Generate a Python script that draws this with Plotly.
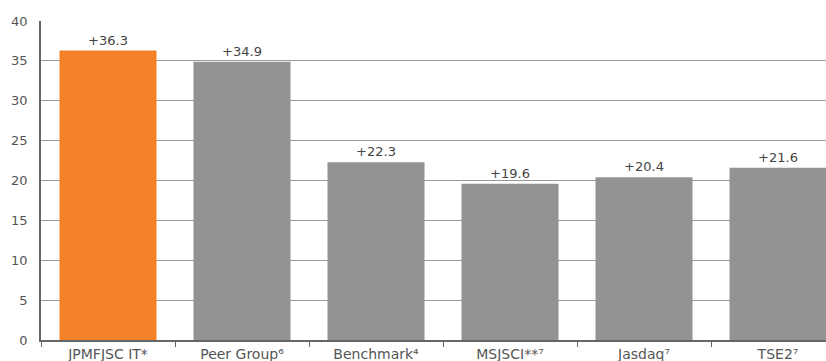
import plotly.graph_objects as go

categories = ["JPMFJSC IT*", "Peer Group⁶", "Benchmark⁴", "MSJSCI**⁷", "Jasdaq⁷", "TSE2⁷"]
values = [36.3, 34.9, 22.3, 19.6, 20.4, 21.6]
labels = ["+36.3", "+34.9", "+22.3", "+19.6", "+20.4", "+21.6"]
colors = ["#F2812A"] + ["#949295"] * 5

fig = go.Figure(go.Bar(
    x=categories, y=values, text=labels, textposition="outside",
    marker=dict(color=colors, line=dict(width=0)),
    textfont=dict(size=13, color="#444444", family="DejaVu Sans"),
    cliponaxis=False,
))

fig.update_layout(
    width=826, height=361,
    margin=dict(l=41, r=0, t=21, b=21),
    paper_bgcolor="white", plot_bgcolor="white",
    bargap=0.276,
    showlegend=False,
    font=dict(family="DejaVu Sans", color="#555555"),
    uniformtext=dict(mode=False),
)
fig.update_xaxes(
    range=[-0.5, 5.358], showline=True, linecolor="#666666", linewidth=1.5,
    ticks="outside", tickson="boundaries", ticklen=5, tickcolor="#666666",
    tickfont=dict(size=14, color="#555555"), showgrid=False,
    ticklabelstandoff=0, automargin=False,
)
fig.update_yaxes(
    range=[0, 40], dtick=5, showline=True, linecolor="#666666", linewidth=1.5,
    showgrid=True, gridcolor="#9a9a9a", gridwidth=1.2,
    tickfont=dict(size=13, color="#555555"), ticks="", zeroline=False,
    ticklabelstandoff=9, automargin=False,
)

fig.write_html("out.html")
